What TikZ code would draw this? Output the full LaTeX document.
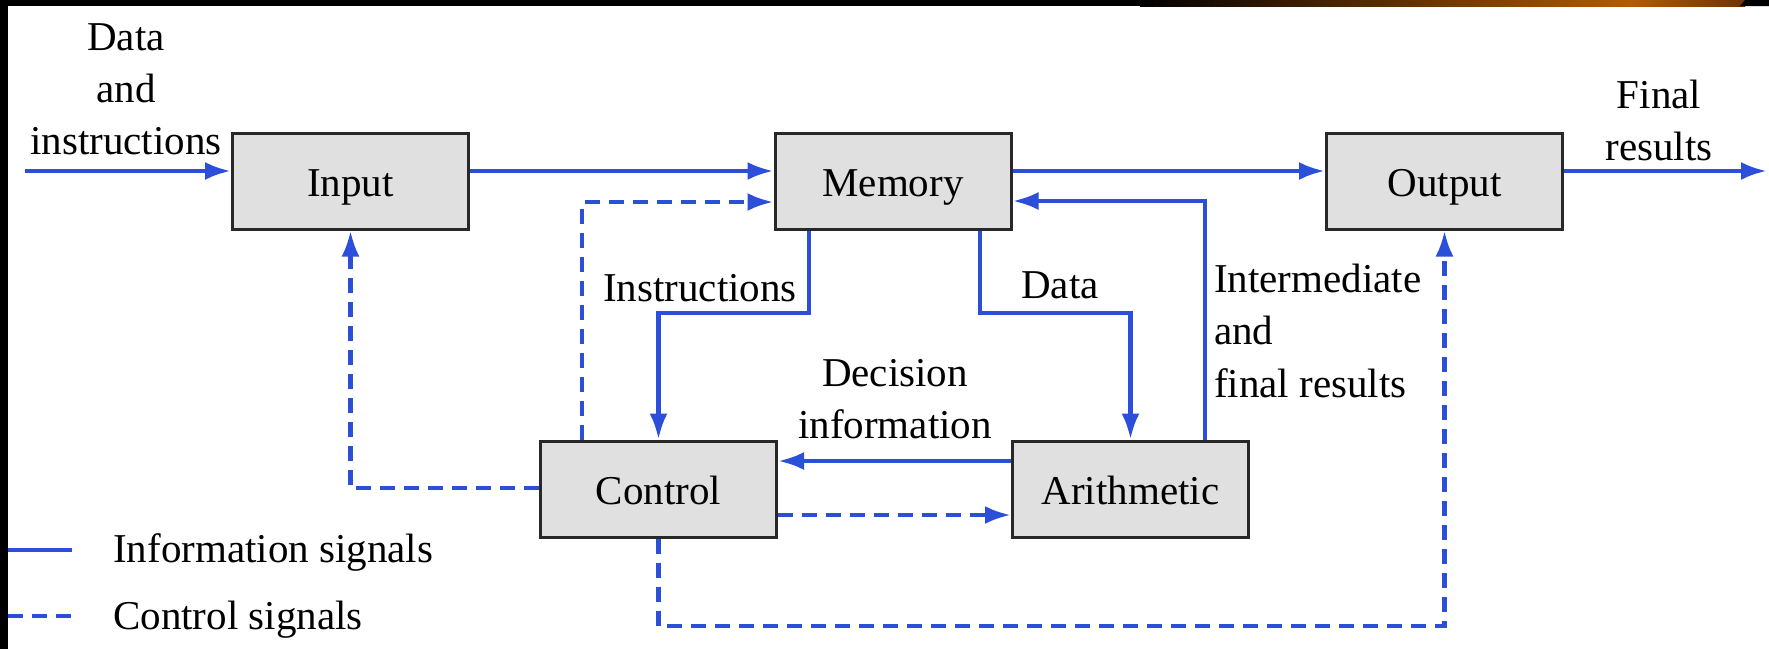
\documentclass[tikz,border=0pt]{standalone}
\usepackage{fontspec}
\setmainfont{Liberation Serif}
\usetikzlibrary{arrows.meta,calc}
\definecolor{sigblue}{RGB}{43,79,216}
\definecolor{boxfill}{RGB}{224,224,224}
\definecolor{boxline}{RGB}{40,40,40}
\definecolor{barorange}{RGB}{180,90,0}
\definecolor{barbrown}{RGB}{110,52,0}
\begin{document}
\begin{tikzpicture}[x=1pt,y=-1pt,
  unit/.style={draw=boxline, line width=3pt, fill=boxfill,
    minimum width=236pt, minimum height=96pt, inner sep=0pt,
    text height=31pt, text depth=1pt, font=\fontsize{41}{49}\selectfont},
  sig/.style={draw=sigblue, line width=4.5pt},
  info/.style={sig, -{Latex[length=26pt,width=18pt]}},
  ctrldash/.style={dash pattern=on 15pt off 9pt},
  ctrl/.style={info, ctrldash},
  lbl/.style={font=\fontsize{41}{52}\selectfont, inner sep=0pt, align=center},
]
% canvas
\useasboundingbox (0,0) rectangle (1769,649);
\fill[white] (0,0) rectangle (1769,649);

% functional units
\node[unit] (input)  at (350.5,181) {Input};
\node[unit] (memory) at (893,181)   {Memory};
\node[unit] (output) at (1444.5,181){Output};
\node[unit] (control) at (658.5,489){Control};
\node[unit] (arith)  at (1130.5,489){Arithmetic};

% routing points
\coordinate (src)  at (25,171);
\coordinate (sink) at (1767,171);
\coordinate (cm)   at (582,202);
\coordinate (ir)   at (1205,201);
\coordinate (ins)  at (809,313);
\coordinate (dat)  at (980,313);
\coordinate (dec)  at (0,461);
\coordinate (cad)  at (0,515);
\coordinate (ci)   at (350,488);
\coordinate (co)   at (0,626);

% information signals
\draw[info] (src) -- (input.west |- src);
\draw[info] (input.east |- src) -- (memory.west |- src);
\draw[info] (memory.east |- src) -- (output.west |- src);
\draw[info] (output.east |- src) -- (sink);
\draw[info] (arith.north -| ir) |- (memory.east |- ir);
\draw[info] (memory.south -| ins) -- (ins) -| (control.north);
\draw[info] (memory.south -| dat) -- (dat) -| (arith.north);
\draw[info] (arith.west |- dec) -- (control.east |- dec);

% control signals
\draw[ctrl] (control.north -| cm) |- (memory.west |- cm);
\draw[ctrl] (control.east |- cad) -- (arith.west |- cad);
\draw[ctrl] (control.west |- ci) -| (input.south);
\draw[ctrl] (control.south) -- (control.south |- co) -| (output.south);

% labels (base anchor sits on the last line)
\node[lbl, anchor=base] (lblin) at (126,154) {Data\\and\\instructions};
\node[lbl, anchor=base] (lblfinal) at (1659,160) {Final\\results};
\node[lbl, anchor=base east] (lblins) at (797,301) {Instructions};
\node[lbl, anchor=base west] (lbldata) at (1021,298) {Data};
\node[lbl, anchor=base west, align=left, font=\fontsize{41}{52.5}\selectfont] (lblinter) at (1214,397) {Intermediate\\and\\final results};
\node[lbl, anchor=base] (lbldec) at (895,438) {Decision\\information};

% legend
\coordinate (legAa) at (8,550);
\coordinate (legAb) at (72,550);
\coordinate (legBa) at (8,616);
\coordinate (legBb) at (72,616);
\draw[sig] (legAa) -- (legAb);
\draw[sig, ctrldash] (legBa) -- (legBb);
\node[lbl, anchor=base west] (legA) at (113,562) {Information signals};
\node[lbl, anchor=base west] (legB) at (113,629) {Control signals};

% frame strips
\fill[black] (0,0) rectangle (1769,6);
\shade[left color=black, right color=barorange] (1140,0) rectangle (1630,6);
\shade[left color=barorange, right color=barbrown] (1630,0) rectangle (1745,6);
\fill[black] (1745,0) -- (1769,0) -- (1769,6) -- (1740,6) -- cycle;
\fill[black] (0,0) rectangle (8,649);
\end{tikzpicture}
\end{document}
